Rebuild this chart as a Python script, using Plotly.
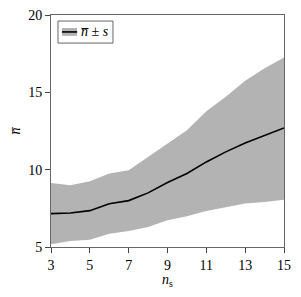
import plotly.graph_objects as go

ns = [3, 4, 5, 6, 7, 8, 9, 10, 11, 12, 13, 14, 15]
mean = [7.16, 7.2, 7.35, 7.8, 8.0, 8.5, 9.17, 9.75, 10.5, 11.15, 11.73, 12.23, 12.7]
upper = [9.14, 9.0, 9.25, 9.75, 9.96, 10.83, 11.73, 12.55, 13.78, 14.71, 15.75, 16.55, 17.26]
lower = [5.17, 5.39, 5.47, 5.86, 6.04, 6.3, 6.73, 6.99, 7.33, 7.59, 7.81, 7.91, 8.06]

band = "#b3b3b3"
family = "Liberation Serif"
font = dict(family=family, size=14, color="black")

nbar = "n\u0305"

fig = go.Figure()
fig.add_trace(go.Scatter(x=ns, y=lower, mode="lines", line=dict(width=0, color=band),
                         showlegend=False, hoverinfo="skip"))
fig.add_trace(go.Scatter(x=ns, y=upper, mode="lines", line=dict(width=0, color=band),
                         fill="tonexty", fillcolor=band, showlegend=False, hoverinfo="skip"))
fig.add_trace(go.Scatter(x=ns, y=mean, mode="lines", line=dict(width=1.6, color="black"),
                         showlegend=False, name="mean"))

axis_common = dict(showgrid=False, zeroline=False, showline=True, linecolor="#666666",
                   linewidth=1, mirror=True, ticks="outside", ticklen=5, tickcolor="#444444",
                   tickfont=font, automargin=False, ticklabeloverflow="allow")

# manual legend (box, patch, line, label)
fig.add_shape(type="rect", xref="paper", yref="paper", x0=0.030, x1=0.266, y0=0.879, y1=0.974,
              line=dict(color="#666666", width=1), fillcolor="white")
fig.add_shape(type="rect", xref="paper", yref="paper", x0=0.047, x1=0.112, y0=0.910, y1=0.944,
              line=dict(width=0), fillcolor=band)
fig.add_shape(type="line", xref="paper", yref="paper", x0=0.047, x1=0.112, y0=0.927, y1=0.927,
              line=dict(color="black", width=1.6))
fig.add_annotation(xref="paper", yref="paper", x=0.120, y=0.927, xanchor="left", yanchor="middle",
                   text="<i>" + nbar + "</i> ± <i>s</i>", showarrow=False, font=font)

fig.update_layout(
    width=285, height=281,
    margin=dict(l=43, r=9, t=7, b=42),
    paper_bgcolor="white", plot_bgcolor="white",
    font=font, showlegend=False,
    xaxis=dict(range=[3, 15], tickvals=[3, 5, 7, 9, 11, 13, 15],
               title=dict(text="<i>n</i><sub>s</sub>", font=font, standoff=6), **axis_common),
    yaxis=dict(range=[5, 20], tickvals=[5, 10, 15, 20],
               title=dict(text="<i>" + nbar + "</i>", font=font, standoff=12), **axis_common),
)

fig.write_html("out.html")
